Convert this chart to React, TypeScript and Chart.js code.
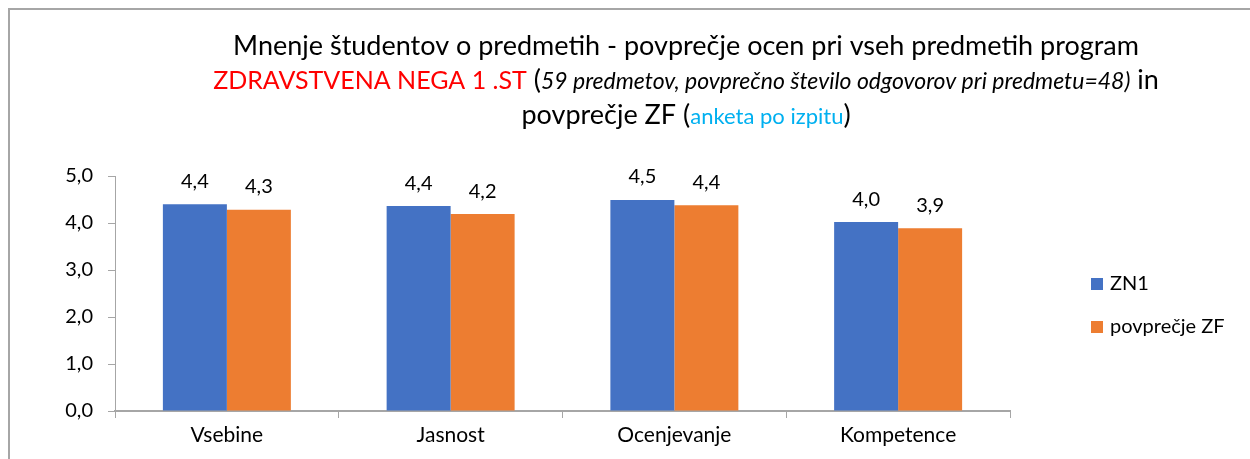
import React, { useEffect, useRef } from "react";
import { Chart, registerables } from "chart.js";

Chart.register(...registerables);

const categories = ["Vsebine", "Jasnost", "Ocenjevanje", "Kompetence"];
const seriesNames = ["ZN1", "povprečje ZF"];
const zn1Values = [4.4, 4.36, 4.49, 4.02];
const zfValues = [4.28, 4.19, 4.38, 3.89];
const yTicks = [0, 1, 2, 3, 4, 5];

const BLUE = "#4472c4";
const ORANGE = "#ed7d31";
const AXIS = "#a6a6a6";
const FONT = "Lato, 'Open Sans', sans-serif";

type Run = { text: string; color: string; size: number; italic?: boolean };
const titleLines: Run[][] = [
  [{ text: "Mnenje študentov o predmetih - povprečje ocen pri vseh predmetih program", color: "#000", size: 27 }],
  [
    { text: "ZDRAVSTVENA NEGA 1 .ST", color: "#ff0000", size: 25 },
    { text: " (", color: "#000", size: 27 },
    { text: "59 predmetov, povprečno število odgovorov pri predmetu=48)", color: "#000", size: 23, italic: true },
    { text: " in", color: "#000", size: 27 },
  ],
  [
    { text: "povprečje ZF (", color: "#000", size: 27 },
    { text: "anketa po izpitu", color: "#00b0f0", size: 22 },
    { text: ")", color: "#000", size: 27 },
  ],
];
const titleLineY = [45, 79, 114];
const titleCenterX = 686;

const fmt = (v: number) => v.toFixed(1).replace(".", ",");

const titlePlugin = {
  id: "mixedTitle",
  afterDraw(chart: any) {
    const ctx = chart.ctx;
    ctx.save();
    ctx.textBaseline = "alphabetic";
    ctx.textAlign = "left";
    titleLines.forEach((runs, i) => {
      let total = 0;
      const widths = runs.map((r) => {
        ctx.font = `${r.italic ? "italic " : ""}${r.size}px ${FONT}`;
        const w = ctx.measureText(r.text).width;
        total += w;
        return w;
      });
      let x = titleCenterX - total / 2;
      runs.forEach((r, j) => {
        ctx.font = `${r.italic ? "italic " : ""}${r.size}px ${FONT}`;
        ctx.fillStyle = r.color;
        ctx.fillText(r.text, x, titleLineY[i] + 10);
        x += widths[j];
      });
    });
    ctx.restore();
  },
};

const labelPlugin = {
  id: "valueLabels",
  afterDatasetsDraw(chart: any) {
    const ctx = chart.ctx;
    ctx.save();
    ctx.font = `20px ${FONT}`;
    ctx.fillStyle = "#000";
    ctx.textAlign = "center";
    ctx.textBaseline = "middle";
    chart.data.datasets.forEach((ds: any, i: number) => {
      const meta = chart.getDatasetMeta(i);
      meta.data.forEach((el: any, j: number) => {
        ctx.fillText(fmt(ds.data[j]), el.x, el.y - 23);
      });
    });
    ctx.restore();
  },
};

const legendPlugin = {
  id: "sideLegend",
  afterDraw(chart: any) {
    const ctx = chart.ctx;
    ctx.save();
    ctx.font = `20px ${FONT}`;
    ctx.textAlign = "left";
    ctx.textBaseline = "middle";
    const colors = [BLUE, ORANGE];
    const ys = [284, 327];
    seriesNames.forEach((name, i) => {
      ctx.fillStyle = colors[i];
      ctx.fillRect(1091, ys[i] - 6, 12, 12);
      ctx.fillStyle = "#000";
      ctx.fillText(name, 1110, ys[i]);
    });
    ctx.restore();
  },
};

export default function App() {
  const ref = useRef<HTMLCanvasElement>(null);
  useEffect(() => {
    if (!ref.current) return;
    const chart = new Chart(ref.current, {
      type: "bar",
      data: {
        labels: categories,
        datasets: [
          { label: seriesNames[0], data: zn1Values, backgroundColor: BLUE, categoryPercentage: 0.572, barPercentage: 1 },
          { label: seriesNames[1], data: zfValues, backgroundColor: ORANGE, categoryPercentage: 0.572, barPercentage: 1 },
        ],
      },
      options: {
        responsive: false,
        animation: false,
        devicePixelRatio: 1,
        layout: { padding: { left: 0, top: 176, right: 240, bottom: 0 } },
        plugins: { legend: { display: false }, title: { display: false }, tooltip: { enabled: false } },
        scales: {
          x: {
            grid: { drawOnChartArea: false, drawTicks: true, tickLength: 7, color: AXIS, offset: true },
            border: { color: AXIS, width: 2 },
            ticks: { color: "#000", font: { family: FONT, size: 21 }, padding: 5 },
            afterFit: (s: any) => { s.height = 48; },
          },
          y: {
            min: 0,
            max: 5,
            afterBuildTicks: (s: any) => { s.ticks = yTicks.map((v) => ({ value: v })); },
            grid: { drawOnChartArea: false, drawTicks: true, tickLength: 7, color: AXIS },
            border: { color: AXIS, width: 1 },
            ticks: { color: "#000", font: { family: FONT, size: 20 }, padding: 15, callback: (v: any) => fmt(Number(v)) },
            afterFit: (s: any) => { s.width = 115; },
          },
        },
      },
      plugins: [titlePlugin, labelPlugin, legendPlugin],
    });
    return () => chart.destroy();
  }, []);
  return (
    <div style={{ position: "fixed", left: 0, top: 0, width: 1250, height: 459, background: "#fff" }}>
      <div style={{ position: "absolute", left: 8, top: 8, width: 1242, height: 451, borderTop: "2px solid #a6a6a6", borderLeft: "2px solid #a6a6a6" }} />
      <canvas ref={ref} width={1250} height={459} style={{ position: "absolute", left: 0, top: 0 }} />
    </div>
  );
}
